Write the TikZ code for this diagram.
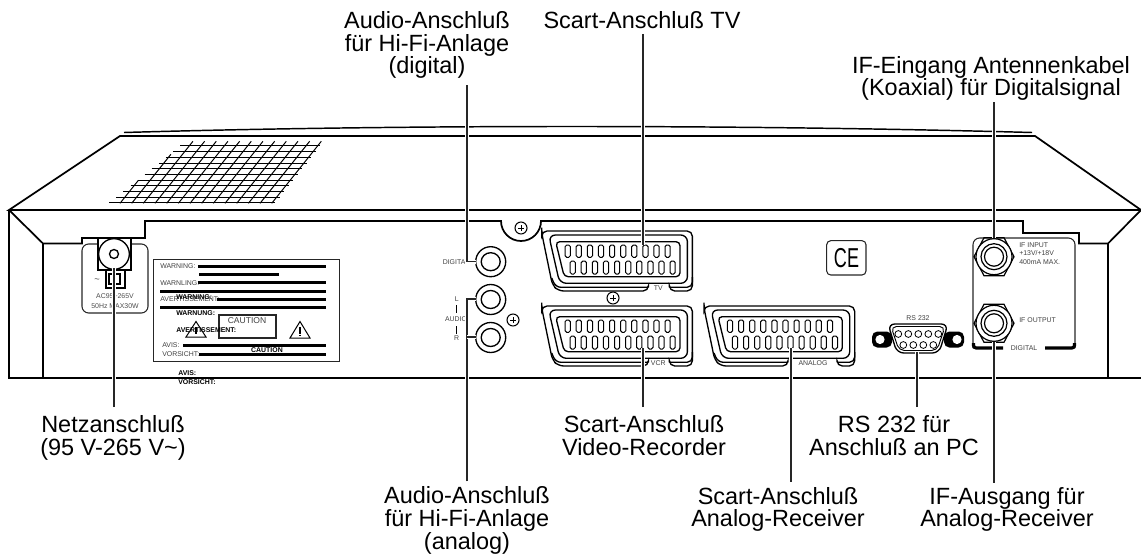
\documentclass[tikz,border=0pt]{standalone}
\usepackage{fontspec}
\setmainfont{Liberation Sans}
\usetikzlibrary{positioning,calc}

\tikzset{
  body/.style={draw=black, line width=1.3pt, line join=miter},
  thin line/.style={draw=black, line width=.75pt},
  callout/.style={font=\fontsize{17.6}{17}\selectfont, align=center, inner sep=0pt, anchor=base},
  tiny text/.style={font=\fontsize{5.2}{6}\selectfont, text=black!75, inner sep=0pt},
  tiny bold/.style={font=\fontsize{5.2}{6}\selectfont\bfseries, inner sep=0pt},
  leader/.style={draw=black!85, line width=.9pt, preaction={draw=white, line width=3pt}},
  bar/.style={draw=black, line width=1.9pt},
  pin/.style={thin line, rounded corners=1.2pt},
  screw/.style={draw=black, line width=.8pt, circle, minimum size=9pt, inner sep=0pt,
    path picture={\draw[line width=.7pt] (path picture bounding box.center) +(-2pt,0) -- +(2pt,0)
      (path picture bounding box.center) +(0,-2pt) -- +(0,2pt);}},
}

% scart socket: name, x, y, flange left end, flange right end, label, label x
\newcommand{\scartsocket}[7]{
  \begin{scope}[shift={(#2,#3)}]
    \draw[thin line, line width=1pt, rounded corners=4pt] (#4,56.3) -- (#4,60) -- (16.7,60) -- (10.7,54) -- (0,2) [sharp corners] -- (0,2)
      [rounded corners=4pt] -- (0,0) -- (150.7,0) -- (150.7,60) -- (#5,60) [sharp corners] -- (#5,56.3);
    \draw[thin line, line width=1pt, rounded corners=4pt] (#4,56.3) -- (14,56.3) -- (10,47);
    \draw[thin line, line width=1pt, rounded corners=4pt] (#5,56.3) -- (150.7,56.3) -- (150.7,46);
    \draw[thin line, line width=1pt, rounded corners=5pt] (7,4) -- (145.7,4) -- (145.7,52.3) -- (18,52.3) -- cycle;
    \draw[thin line, line width=1pt, rounded corners=3pt] (14,10.7) -- (138.3,10.7) -- (138.3,45.7) -- (22.5,45.7) -- cycle;
    \foreach \i in {0,...,9} {
      \draw[pin] ({23.4+11.1*\i},14) rectangle +(5.2,12.3);
      \draw[pin] ({28.4+11.1*\i},30) rectangle +(5.2,13);
    }
    \node[tiny text, name=#1] at (#7,57.5) {#6};
  \end{scope}
}
% threaded IF jack
\newcommand{\ifjack}[3]{
  \begin{scope}[shift={(#2,#3)}]
    \draw[thin line, line width=.9pt] (-20,0) -- (-10,-19) -- (10,-19) -- (20,0) -- (10,19) -- (-10,19) -- cycle;
    \node[name=#1, draw, fill=white, line width=.9pt, circle, minimum size=27pt, inner sep=0pt] at (0,0) {};
    \draw[line width=.9pt] (0,0) circle (13);
    \draw[line width=.9pt] (0,0) circle (9.5);
  \end{scope}
}

\begin{document}
\begin{tikzpicture}[x=.75pt, y=-.75pt]
  \useasboundingbox (0,0) rectangle (1141,556);

  % housing
  \draw[body, line width=1.1pt] (124,132.5) .. controls (400,124.5) and (740,124.5) .. (1032,132.5);
  \draw[body] (9,210) -- (120,136) -- (1035,136) -- (1141,210) -- cycle;
  \draw[body] (9,210) -- (9,378) -- (1141,378);
  \draw[body] (43,378) -- (43,243.5);
  \draw[body] (9,210) -- (43,243.5) -- (82,243.5) -- (82,238) -- (145,238) -- (145,221) -- (501,221)
    arc[start angle=180, end angle=0, radius=20] -- (1023,221) -- (1023,233) -- (1079,233) -- (1079,243.5) -- (1108,243.5) -- (1141,210);
  \draw[body] (1108,243.5) -- (1108,378);

  % vent grid
  \foreach \i in {0,...,10}
    \draw[thin line] ({109.3+7.07*\i},{202.7-5.67*\i}) -- ({275+4.5*\i},{202.7-5.67*\i});
  \foreach \k/\h in {0/23,1/49,2/62,3/62,4/62,5/62,6/62,7/62,8/62,9/62,10/62,11/62,12/62,13/62}
    \draw[thin line] ({120+11.67*\k},203.3) -- ({120+11.67*\k+.8*\h},{203.3-\h});

  % mains panel
  \draw[draw=black!85, line width=.8pt, rounded corners=5pt] (82,244) rectangle (148,313);
  \draw[thin line, line width=1pt, fill=white] (98,238) rectangle (131,270);
  \node[name=mainssocket, draw, fill=white, line width=1pt, circle, minimum size=23pt, inner sep=0pt] at (114,254) {};
  \draw[line width=1pt] (114,254) circle (4.5);
  \draw[thin line, line width=1pt] (106,270) rectangle (125,288);
  \draw[thin line, line width=1pt] (109,274) rectangle (120,284);
  \node[tiny text, font=\fontsize{7}{8}\selectfont] (mainssign) at (97,281) {\textasciitilde};
  \node[tiny text, align=center, text=black!70] (mainsrating) at (115,301) {AC95\textasciitilde265V\\[2pt]50Hz MAX30W};

  % warning plate
  \draw[draw=black!85, line width=.8pt] (153.3,259.3) rectangle (339.3,361.7);
  \node[tiny text, anchor=west] (warnA) at (160,266.5) {WARNING:};
  \node[tiny text, anchor=west] (warnB) at (160,283.5) {WARNLING:};
  \node[tiny text, anchor=west] (warnC) at (160,299.5) {AVERTISSEMENT:};
  \node[tiny text, anchor=west] (warnD) at (162,345.5) {AVIS:};
  \node[tiny text, anchor=west] (warnE) at (162,354.5) {VORSICHT:};
  \draw[bar] (198,266.3) -- (326,266.3);
  \draw[bar] (199,274.3) -- (279,274.3);
  \draw[bar] (198,282.3) -- (326,282.3);
  \draw[bar] (160,291.3) -- (326,291.3);
  \draw[bar] (217,299.3) -- (326,299.3);
  \draw[bar] (160,307.3) -- (326,307.3);
  \draw[bar] (183,345.3) -- (326,345.3);
  \draw[bar] (199,354.3) -- (326,354.3);
  \draw[draw=black!85, line width=.8pt] (219,315) rectangle (276,338);
  \node[tiny text, font=\fontsize{6.4}{7}\selectfont] (cautionbox) at (247,321) {CAUTION};
  \draw[thin line] (196,321.5) -- (206,337) -- (186,337) -- cycle;
  \draw[thin line] (300,321.5) -- (310,338) -- (290,338) -- cycle;
  \draw[line width=1.2pt] (300,327) -- (300,333.5) (300,334.5) -- (300,336);
  \draw[line width=1.2pt] (196,327) -- (196,333.5);
  \node[tiny bold, anchor=west] (boldA) at (176,297) {WARNING:};
  \node[tiny bold, anchor=west] (boldB) at (176,313) {WARNUNG:};
  \node[tiny bold, anchor=west] (boldC) at (176,330) {AVERTISSEMENT:};
  \node[tiny bold] (boldD) at (267,350) {CAUTION};
  \node[tiny bold, anchor=west] (boldE) at (178,373.5) {AVIS:};
  \node[tiny bold, anchor=west] (boldF) at (178,382) {VORSICHT:};

  % audio jacks
  \node[screw] (notchscrew) at (521,228) {};
  \node[screw] (audioscrew) at (513,320) {};
  \node[screw] (scartscrew) at (613,298) {};
  \foreach \n/\y in {digitaljack/261.7, leftjack/299.5, rightjack/337.5} {
    \node[name=\n, draw, line width=1pt, circle, minimum size=22.5pt, inner sep=0pt] at (490.7,\y) {};
    \draw[line width=1pt] (490.7,\y) ellipse (9.5 and 9);
  }
  \node[tiny text] (digitaltag) at (456,261.7) {DIGITAL};
  \node[tiny text] (ltag) at (456.7,299) {L};
  \node[tiny text] (audiotag) at (456,319.5) {AUDIO};
  \node[tiny text] (rtag) at (456.7,338) {R};
  \draw[line width=1pt] (456.7,305) -- (456.7,313) (456.7,326) -- (456.7,334);

  % scart sockets
  \scartsocket{tvtag}{541.7}{231}{106.7}{127.7}{TV}{116.5}
  \scartsocket{vcrtag}{541.7}{306}{106.7}{127.7}{VCR}{116.5}
  \scartsocket{analogtag}{704}{306}{84}{133}{ANALOG}{109}

  % CE mark
  \draw[draw=black!85, line width=.8pt, rounded corners=3pt] (826.7,240.7) rectangle (866,275);
  \node[xscale=.66, transform shape, font=\fontsize{20.5}{22}\selectfont, inner sep=0pt] (cemark) at (846.5,258) {C\kern.5pt E};

  % rs232
  \node[name=rsleft, fill=black, rounded corners=4pt, minimum width=15pt, minimum height=12pt, inner sep=0pt] at (882,339.5) {};
  \node[name=rsright, fill=black, rounded corners=4pt, minimum width=15pt, minimum height=12pt, inner sep=0pt] at (954,339.5) {};
  \draw[fill=white, line width=1pt, rounded corners=5pt] (888,324) -- (948,324) -- (939,353) -- (897,353) -- cycle;
  \draw[line width=.7pt, rounded corners=4pt] (891,326.5) -- (945,326.5) -- (937,350.5) -- (899,350.5) -- cycle;
  \foreach \x in {0,...,4}
    \draw[line width=.6pt] ({898.3+10*\x},334) circle (3.4);
  \foreach \x in {0,...,3}
    \draw[line width=.6pt] ({903.3+10*\x},345) circle (3.4);
  \node[screw, minimum size=6pt, draw=white, fill=white] (rsscrewA) at (880,339.5) {};
  \node[screw, minimum size=6pt, draw=white, fill=white] (rsscrewB) at (957,339.5) {};
  \node[tiny text] (rstag) at (918,317.7) {RS 232};

  % IF panel
  \draw[draw=black!85, line width=.8pt, rounded corners=5pt] (973,348) -- (973,238) -- (1075,238) -- (1075,348);
  \draw[line width=2.4pt, rounded corners=2pt] (973.5,343) -- (973.5,348) -- (1003,348);
  \draw[line width=2.4pt, rounded corners=2pt] (1045,348) -- (1074.5,348) -- (1074.5,343);
  \ifjack{ifin}{994}{256.7}
  \ifjack{ifout}{994}{323.3}
  \node[tiny text, anchor=west] (iftagA) at (1019,245) {IF INPUT};
  \node[tiny text, anchor=west] (iftagB) at (1019,253.5) {+13V/+18V};
  \node[tiny text, anchor=west] (iftagC) at (1019,262) {400mA MAX.};
  \node[tiny text, anchor=west] (iftagD) at (1019,320) {IF OUTPUT};
  \node[tiny text] (iftagE) at (1024,348) {DIGITAL};

  % callouts
  \node[callout] (lbldigital) at (427,74) {Audio-Anschluß\\für Hi-Fi-Anlage\\(digital)};
  \node[callout] (lbltv) at (642,28.3) {Scart-Anschluß TV};
  \node[callout] (lblifin) at (991,96) {IF-Eingang Antennenkabel\\(Koaxial) für Digitalsignal};
  \node[callout] (lblmains) at (113,455) {Netzanschluß\\(95 V-265 V\textasciitilde)};
  \node[callout] (lblanalog) at (467,549) {Audio-Anschluß\\für Hi-Fi-Anlage\\(analog)};
  \node[callout] (lblvcr) at (644,455) {Scart-Anschluß\\Video-Recorder};
  \node[callout] (lblrecv) at (778,526.7) {Scart-Anschluß\\Analog-Receiver};
  \node[callout] (lblrs) at (894,455) {RS 232 für\\Anschluß an PC};
  \node[callout] (lblifout) at (1007,526.7) {IF-Ausgang für\\Analog-Receiver};

  % leader ends
  \coordinate (pdigital) at (476,261.7);
  \coordinate (vdigital) at (467,100);
  \coordinate (ptv) at (643,245);
  \coordinate (pifin) at (994,238);
  \coordinate (pmains) at (114,268);
  \coordinate (pleft) at (476,299);
  \coordinate (pright) at (476,337);
  \coordinate (pvcr) at (643,348);
  \coordinate (precv) at (791,348);
  \coordinate (prs) at (917,352);
  \coordinate (pifout) at (994,342);

  \path[leader, shorten >=4.5pt] (pdigital) -| (lbldigital.south -| vdigital);
  \path[leader, shorten <=3.8pt] (lbltv.south -| ptv) -- (ptv);
  \path[leader, shorten <=1pt] (lblifin.south -| pifin) -- (pifin);
  \path[leader, shorten <=6pt] (lblmains.north -| pmains) -- (pmains);
  \path[leader, shorten <=3.8pt] (lblanalog.north) |- (pleft);
  \path[leader] (pright) -- (pright -| lblanalog.north);
  \path[leader, shorten <=6pt] (lblvcr.north -| pvcr) -- (pvcr);
  \path[leader, shorten <=3.8pt] (lblrecv.north -| precv) -- (precv);
  \path[leader, shorten <=6pt] (lblrs.north -| prs) -- (prs);
  \path[leader, shorten <=3pt] (lblifout.north -| pifout) -- (pifout);
\end{tikzpicture}
\end{document}
